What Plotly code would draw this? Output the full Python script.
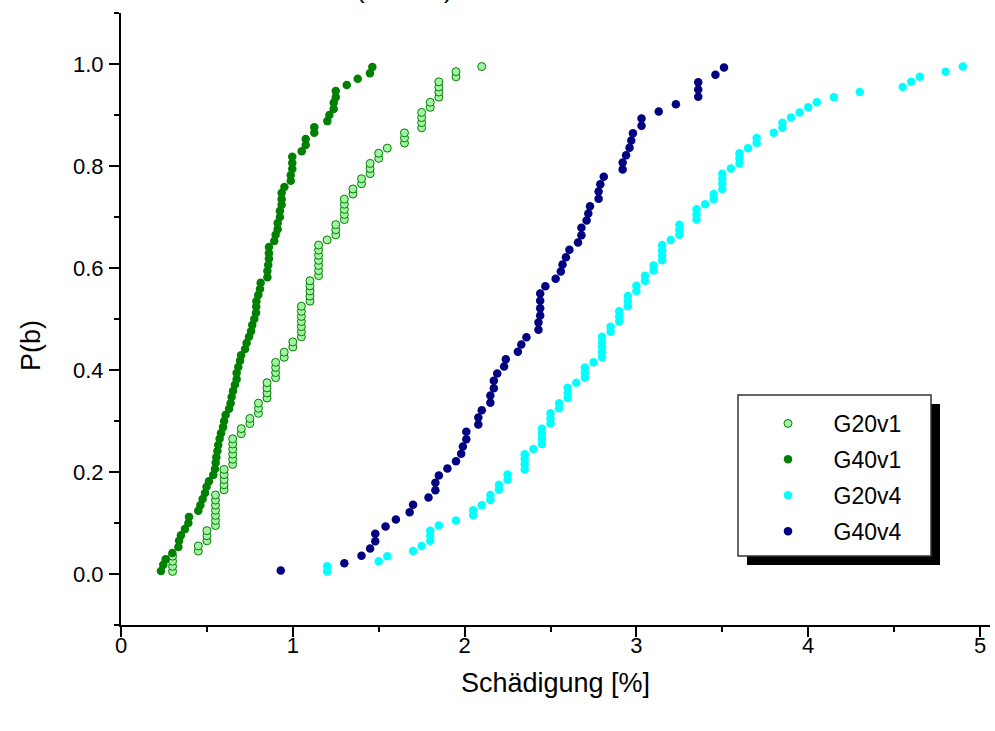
import plotly.graph_objects as go

# ---------------- data ----------------
series_names = ["G20v1", "G40v1", "G20v4", "G40v4"]

# cumulative probability levels P(b)
p_100 = [0.005, 0.015, 0.025, 0.035, 0.045, 0.055, 0.065, 0.075, 0.085, 0.095,
         0.105, 0.115, 0.125, 0.135, 0.145, 0.155, 0.165, 0.175, 0.185, 0.195,
         0.205, 0.215, 0.225, 0.235, 0.245, 0.255, 0.265, 0.275, 0.285, 0.295,
         0.305, 0.315, 0.325, 0.335, 0.345, 0.355, 0.365, 0.375, 0.385, 0.395,
         0.405, 0.415, 0.425, 0.435, 0.445, 0.455, 0.465, 0.475, 0.485, 0.495,
         0.505, 0.515, 0.525, 0.535, 0.545, 0.555, 0.565, 0.575, 0.585, 0.595,
         0.605, 0.615, 0.625, 0.635, 0.645, 0.655, 0.665, 0.675, 0.685, 0.695,
         0.705, 0.715, 0.725, 0.735, 0.745, 0.755, 0.765, 0.775, 0.785, 0.795,
         0.805, 0.815, 0.825, 0.835, 0.845, 0.855, 0.865, 0.875, 0.885, 0.895,
         0.905, 0.915, 0.925, 0.935, 0.945, 0.955, 0.965, 0.975, 0.985, 0.995]

p_85 = [0.006, 0.018, 0.029, 0.041, 0.053, 0.065, 0.076, 0.088, 0.100, 0.112,
        0.124, 0.135, 0.147, 0.159, 0.171, 0.182, 0.194, 0.206, 0.218, 0.229,
        0.241, 0.253, 0.265, 0.276, 0.288, 0.300, 0.312, 0.324, 0.335, 0.347,
        0.359, 0.371, 0.382, 0.394, 0.406, 0.418, 0.429, 0.441, 0.453, 0.465,
        0.476, 0.488, 0.500, 0.512, 0.524, 0.535, 0.547, 0.559, 0.571, 0.582,
        0.594, 0.606, 0.618, 0.629, 0.641, 0.653, 0.665, 0.676, 0.688, 0.700,
        0.712, 0.724, 0.735, 0.747, 0.759, 0.771, 0.782, 0.794, 0.806, 0.818,
        0.829, 0.841, 0.853, 0.865, 0.876, 0.888, 0.900, 0.912, 0.924, 0.935,
        0.947, 0.959, 0.971, 0.982, 0.994]

p_70 = [0.007, 0.021, 0.036, 0.050, 0.064, 0.079, 0.093,
        0.107, 0.121, 0.136, 0.150, 0.164, 0.179, 0.193,
        0.207, 0.221, 0.236, 0.250, 0.264, 0.279, 0.293,
        0.307, 0.321, 0.336, 0.350, 0.364, 0.379, 0.393,
        0.407, 0.421, 0.436, 0.450, 0.464, 0.479, 0.493,
        0.507, 0.521, 0.536, 0.550, 0.564, 0.579, 0.593,
        0.607, 0.621, 0.636, 0.650, 0.664, 0.679, 0.693,
        0.707, 0.721, 0.736, 0.750, 0.764, 0.779, 0.793,
        0.807, 0.821, 0.836, 0.850, 0.864, 0.879, 0.893,
        0.907, 0.921, 0.936, 0.950, 0.964, 0.979, 0.993]

# Schaedigung [%] values, sorted
g20v1_x = [0.30, 0.30, 0.30, 0.30, 0.45, 0.45, 0.50, 0.50, 0.50,
           0.55, 0.55, 0.55, 0.55, 0.55, 0.55, 0.55,
           0.60, 0.60, 0.60, 0.60, 0.60,
           0.65, 0.65, 0.65, 0.65, 0.65, 0.65,
           0.70, 0.70, 0.75, 0.75, 0.80, 0.80, 0.80,
           0.85, 0.85, 0.85, 0.85, 0.90, 0.90, 0.90, 0.90,
           0.95, 0.95, 1.00, 1.00,
           1.05, 1.05, 1.05, 1.05, 1.05, 1.05, 1.05,
           1.10, 1.10, 1.10, 1.10, 1.10,
           1.15, 1.15, 1.15, 1.15, 1.15, 1.15, 1.15,
           1.20, 1.25, 1.25, 1.25, 1.30, 1.30, 1.30, 1.30, 1.30,
           1.35, 1.35, 1.40, 1.40, 1.45, 1.45, 1.45, 1.50, 1.50, 1.55,
           1.65, 1.65, 1.65, 1.75, 1.75, 1.75, 1.75, 1.80, 1.80,
           1.85, 1.85, 1.85, 1.85, 1.95, 1.95, 2.10]

g40v1_x = [0.233, 0.246, 0.260, 0.299, 0.334, 0.338, 0.349, 0.372, 0.392, 0.396,
           0.450, 0.462, 0.475, 0.489, 0.498, 0.512, 0.537, 0.547, 0.551, 0.555,
           0.561, 0.566, 0.574, 0.582, 0.594, 0.600, 0.609, 0.629, 0.638, 0.644,
           0.652, 0.663, 0.673, 0.673, 0.683, 0.693, 0.699, 0.722, 0.731, 0.745,
           0.757, 0.764, 0.776, 0.786, 0.787, 0.788, 0.799, 0.809, 0.813, 0.852,
           0.852, 0.857, 0.861, 0.861, 0.861, 0.892, 0.900, 0.912, 0.912, 0.925,
           0.925, 0.935, 0.935, 0.935, 0.951, 0.988, 0.988, 0.997, 0.997, 0.997,
           1.052, 1.075, 1.075, 1.125, 1.125, 1.201, 1.213, 1.238, 1.238, 1.250,
           1.250, 1.314, 1.378, 1.449, 1.463]

g20v4_x = [1.20, 1.20, 1.50, 1.55, 1.70, 1.75, 1.80, 1.80, 1.80, 1.85,
           1.95, 2.05, 2.05, 2.10, 2.15, 2.15, 2.20, 2.20, 2.25, 2.25,
           2.35, 2.35, 2.35, 2.35, 2.40, 2.45, 2.45, 2.45, 2.45, 2.50,
           2.50, 2.50, 2.55, 2.55, 2.60, 2.60, 2.60, 2.65, 2.70, 2.70,
           2.70, 2.75, 2.80, 2.80, 2.80, 2.80, 2.80, 2.85, 2.85, 2.90,
           2.90, 2.90, 2.95, 2.95, 2.95, 3.00, 3.00, 3.05, 3.05, 3.10,
           3.10, 3.15, 3.15, 3.15, 3.15, 3.20, 3.25, 3.25, 3.25, 3.35,
           3.35, 3.35, 3.40, 3.45, 3.45, 3.50, 3.50, 3.50, 3.50, 3.55,
           3.60, 3.60, 3.60, 3.65, 3.70, 3.70, 3.80, 3.85, 3.85, 3.90,
           3.95, 4.00, 4.05, 4.15, 4.30, 4.55, 4.60, 4.65, 4.80, 4.90]

g40v4_x = [0.93, 1.30, 1.40, 1.45, 1.48, 1.48, 1.54, 1.60, 1.68, 1.70,
           1.79, 1.83, 1.83, 1.85, 1.90, 1.95, 1.98, 1.99, 2.01, 2.01,
           2.08, 2.08, 2.10, 2.15, 2.15, 2.17, 2.17, 2.19, 2.23, 2.24,
           2.31, 2.33, 2.36, 2.43, 2.43, 2.44, 2.44, 2.44, 2.44, 2.47,
           2.53, 2.56, 2.57, 2.59, 2.61, 2.66, 2.68, 2.68, 2.71, 2.72,
           2.73, 2.78, 2.78, 2.79, 2.81, 2.92, 2.92, 2.94, 2.96, 2.97,
           2.98, 3.03, 3.03, 3.13, 3.23, 3.36, 3.36, 3.36, 3.46, 3.51]

x_ticks = [0, 1, 2, 3, 4, 5]
y_ticks = [0.0, 0.2, 0.4, 0.6, 0.8, 1.0]
y_tick_labels = ["0.0", "0.2", "0.4", "0.6", "0.8", "1.0"]

# ---------------- figure ----------------
FONT = "Arial, 'Liberation Sans', sans-serif"
NB = "\u00a0"

fig = go.Figure()
fig.add_trace(go.Scatter(
    x=g20v1_x, y=p_100, mode="markers", name=NB * 4 + series_names[0],
    legendgroup="a",
    marker=dict(size=8, color="#A3F2A3", line=dict(color="#008000", width=1))))
fig.add_trace(go.Scatter(
    x=g40v1_x, y=p_85, mode="markers", name=NB * 4 + series_names[1],
    legendgroup="b",
    marker=dict(size=8.5, color="#008000", line=dict(width=0))))
fig.add_trace(go.Scatter(
    x=g20v4_x, y=p_100, mode="markers", name=NB * 4 + series_names[2],
    legendgroup="c",
    marker=dict(size=8.5, color="#00FFFF", line=dict(width=0))))
fig.add_trace(go.Scatter(
    x=g40v4_x, y=p_70, mode="markers", name=NB * 4 + series_names[3],
    legendgroup="d",
    marker=dict(size=8.5, color="#000080", line=dict(width=0))))

W, H = 995, 731
ML, MR, MT, MB = 121, 5, 13, 106
PW, PH = W - ML - MR, H - MT - MB


def px_x(px):
    return (px - ML) / PW


def px_y(py):
    return (H - MB - py) / PH


shapes = [
    # legend shadow
    dict(type="rect", xref="paper", yref="paper",
         x0=px_x(747), x1=px_x(940), y0=px_y(565), y1=px_y(404),
         fillcolor="black", line=dict(width=0), layer="below"),
    # legend box
    dict(type="rect", xref="paper", yref="paper",
         x0=px_x(738), x1=px_x(931), y0=px_y(556), y1=px_y(395),
         fillcolor="white", line=dict(color="#333333", width=1.5), layer="below"),
]

fig.update_layout(
    width=W, height=H,
    margin=dict(l=ML, r=MR, t=MT, b=MB, pad=0, autoexpand=False),
    paper_bgcolor="white", plot_bgcolor="white",
    font=dict(family=FONT, color="black", size=20),
    showlegend=True,
    legend=dict(x=px_x(768), y=px_y(402), xanchor="left", yanchor="top",
                bgcolor="rgba(0,0,0,0)", borderwidth=0,
                font=dict(size=23, family=FONT), tracegroupgap=3,
                itemsizing="trace"),
    shapes=shapes,
    annotations=[
        dict(text="(" + NB * 11 + ")", xref="paper", yref="paper",
             x=px_x(404), y=px_y(6), xanchor="center", yanchor="bottom",
             showarrow=False, font=dict(size=26, family=FONT)),
        dict(text="P(b)", xref="paper", yref="paper",
             x=px_x(31), y=px_y(346), xanchor="center", yanchor="middle",
             textangle=-90, showarrow=False, font=dict(size=27, family=FONT)),
    ],
)

fig.update_xaxes(
    range=[0, PW / 171.8], showgrid=False, zeroline=False, automargin=False,
    showline=True, linecolor="black", linewidth=2,
    ticks="outside", ticklen=10, tickwidth=2, tickcolor="black",
    tickmode="array", tickvals=x_ticks, ticktext=[str(v) for v in x_ticks],
    tickfont=dict(size=22, family=FONT), ticklabelstandoff=-10,
    minor=dict(ticks="outside", ticklen=5, tickwidth=2, tickcolor="black", dtick=0.5, tick0=0),
    title=dict(text="Schädigung [%]", font=dict(size=27, family=FONT), standoff=16),
)
fig.update_yaxes(
    range=[-0.1, 1.1], showgrid=False, zeroline=False, automargin=False,
    showline=True, linecolor="black", linewidth=2,
    ticks="outside", ticklen=10, tickwidth=2, tickcolor="black",
    tickmode="array", tickvals=y_ticks, ticktext=y_tick_labels,
    tickfont=dict(size=22, family=FONT),
    minor=dict(ticks="outside", ticklen=5, tickwidth=2, tickcolor="black", dtick=0.1, tick0=0),
    ticklabelstandoff=1,
)

fig.write_html("out.html",
               config={"displayModeBar": False},
               post_script="document.body.style.margin='0';document.body.style.overflow='hidden';")
